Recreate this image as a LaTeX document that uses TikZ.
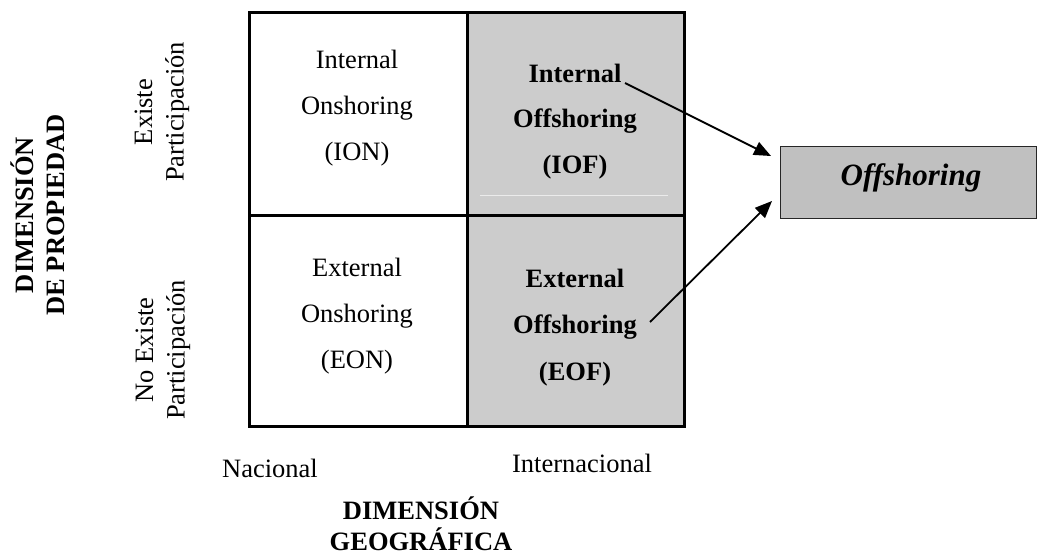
\documentclass[tikz,border=0pt]{standalone}
\usepackage{fontspec}
\setmainfont{Liberation Serif}
\usetikzlibrary{arrows.meta}
\newcommand\mystack[1]{\begin{tabular}[t]{@{}c@{}}#1\end{tabular}}
\definecolor{cellgray}{HTML}{CCCCCC}
\definecolor{boxgray}{HTML}{C0C0C0}
\tikzset{
  cellbox/.style={draw=black, line width=2.6pt, minimum width=218pt, inner sep=0pt, anchor=north west},
  celltext/.style={anchor=base, inner sep=0pt, font=\fontsize{26.5}{46}\selectfont},
  sidetext/.style={anchor=base, inner sep=0pt, rotate=90, font=\fontsize{26.5}{31.5}\selectfont},
  dimtext/.style={anchor=base, inner sep=0pt, font=\fontsize{26.5}{30}\selectfont\bfseries},
  axtext/.style={anchor=base, inner sep=0pt, font=\fontsize{26.5}{30}\selectfont},
  arr/.style={line width=1.8pt, -{Triangle[length=17pt,width=14pt]}}
}
\begin{document}
\begin{tikzpicture}[x=1pt,y=-1pt]
\useasboundingbox (0,0) rectangle (1037,560);
% grid cells
\node[cellbox, fill=white, minimum height=203pt] (ion) at (248,11) {};
\node[cellbox, fill=cellgray, minimum height=203pt, minimum width=217pt] (iof) at (466,11) {};
\node[cellbox, fill=white, minimum height=211pt] (eon) at (248,214) {};
\node[cellbox, fill=cellgray, minimum height=211pt, minimum width=217pt] (eof) at (466,214) {};
% faint artifact line in IOF cell
\draw[white!92!black, line width=0.6pt] (480,195) -- (668,195);
% cell texts
\node[celltext] (tion) at (357,68) {\mystack{Internal\\Onshoring\\(ION)}};
\node[celltext, font=\fontsize{26.5}{45.5}\selectfont\bfseries] (tiof) at (575,82) {\mystack{Internal\\Offshoring\\(IOF)}};
\node[celltext] (teon) at (357,276) {\mystack{External\\Onshoring\\(EON)}};
\node[celltext, font=\fontsize{26.5}{46.5}\selectfont\bfseries] (teof) at (575,287) {\mystack{External\\Offshoring\\(EOF)}};
% offshoring box
\node[draw=black!85, line width=1.4pt, fill=boxgray, anchor=north west, minimum width=256pt, minimum height=72pt, inner sep=0pt] (off) at (780,146) {};
\node[anchor=base, inner sep=0pt, font=\fontsize{31}{36}\selectfont\bfseries\itshape] (toff) at (911,185) {Offshoring};
% arrows
\coordinate (s1) at (625,83);
\coordinate (e1) at (771,156);
\coordinate (s2) at (650,322);
\coordinate (e2) at (772,201);
\draw[arr] (s1) -- (e1);
\draw[arr] (s2) -- (e2);
% side labels
\node[sidetext, font=\fontsize{26.5}{32}\selectfont\bfseries] (dprop) at (33,215) {\mystack{DIMENSIÓN\\DE PROPIEDAD}};
\node[sidetext] (exi) at (152,112) {\mystack{Existe\\Participación}};
\node[sidetext] (noexi) at (153,350) {\mystack{No Existe\\Participación}};
% bottom labels
\node[axtext] (nac) at (270,477) {Nacional};
\node[axtext] (int) at (582,472) {Internacional};
\node[dimtext] (dgeo) at (421,519) {\mystack{DIMENSIÓN\\GEOGRÁFICA}};
\end{tikzpicture}
\end{document}
